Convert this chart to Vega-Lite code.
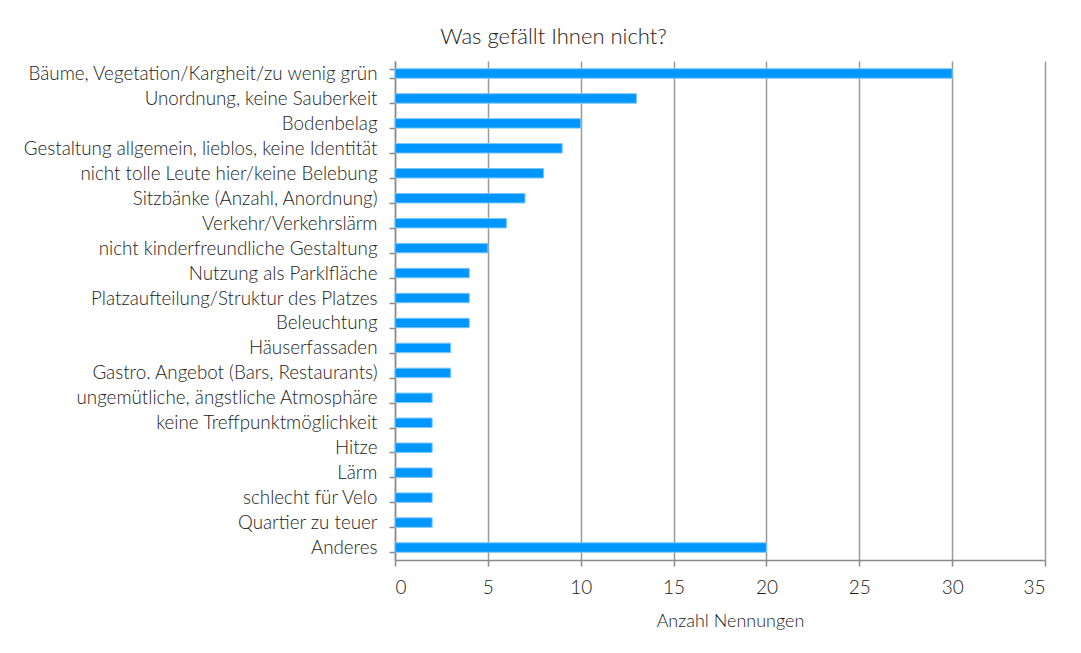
{
  "$schema": "https://vega.github.io/schema/vega-lite/v6.json",
  "autosize": "none",
  "width": 650,
  "height": 499,
  "padding": {"left": 395, "top": 61, "right": 36, "bottom": 93},
  "background": "white",
  "title": {
    "text": "Was gefällt Ihnen nicht?",
    "font": "Lato",
    "fontSize": 22,
    "fontWeight": 300,
    "color": "#222222",
    "anchor": "middle",
    "frame": "bounds",
    "dx": 19,
    "offset": 3
  },
  "data": {
    "values": [
      {"Grund": "Bäume, Vegetation/Kargheit/zu wenig grün", "Anzahl": 30},
      {"Grund": "Unordnung, keine Sauberkeit", "Anzahl": 13},
      {"Grund": "Bodenbelag", "Anzahl": 10},
      {"Grund": "Gestaltung allgemein, lieblos, keine Identität", "Anzahl": 9},
      {"Grund": "nicht tolle Leute hier/keine Belebung", "Anzahl": 8},
      {"Grund": "Sitzbänke (Anzahl, Anordnung)", "Anzahl": 7},
      {"Grund": "Verkehr/Verkehrslärm", "Anzahl": 6},
      {"Grund": "nicht kinderfreundliche Gestaltung", "Anzahl": 5},
      {"Grund": "Nutzung als Parklfläche", "Anzahl": 4},
      {"Grund": "Platzaufteilung/Struktur des Platzes", "Anzahl": 4},
      {"Grund": "Beleuchtung", "Anzahl": 4},
      {"Grund": "Häuserfassaden", "Anzahl": 3},
      {"Grund": "Gastro. Angebot (Bars, Restaurants)", "Anzahl": 3},
      {"Grund": "ungemütliche, ängstliche Atmosphäre", "Anzahl": 2},
      {"Grund": "keine Treffpunktmöglichkeit", "Anzahl": 2},
      {"Grund": "Hitze", "Anzahl": 2},
      {"Grund": "Lärm", "Anzahl": 2},
      {"Grund": "schlecht für Velo", "Anzahl": 2},
      {"Grund": "Quartier zu teuer", "Anzahl": 2},
      {"Grund": "Anderes", "Anzahl": 20}
    ]
  },
  "mark": {"type": "bar", "color": "#0096FF", "stroke": "#7cc6ff", "strokeWidth": 1},
  "encoding": {
    "y": {
      "field": "Grund",
      "type": "nominal",
      "sort": null,
      "scale": {"paddingInner": 0.62, "paddingOuter": 0.31},
      "axis": {
        "title": null,
        "labelFont": "Lato",
        "labelFontSize": 18.8,
        "labelFontWeight": 300,
        "labelColor": "#222222",
        "labelPadding": 12,
        "labelLimit": 400,
        "tickBand": "extent",
        "tickSize": 6,
        "tickColor": "#8a8a8a",
        "tickWidth": 1.5,
        "domainColor": "#8a8a8a",
        "domainWidth": 1.5,
        "grid": false
      }
    },
    "x": {
      "field": "Anzahl",
      "type": "quantitative",
      "scale": {"domain": [0, 35], "nice": false},
      "axis": {
        "title": "Anzahl Nennungen",
        "values": [0, 5, 10, 15, 20, 25, 30, 35],
        "titleFont": "Lato",
        "titleFontSize": 18,
        "titleFontWeight": 300,
        "titleColor": "#222222",
        "titlePadding": 15,
        "titleX": 335,
        "labelFont": "Lato",
        "labelFontSize": 19,
        "labelFontWeight": 300,
        "labelColor": "#222222",
        "labelPadding": 12,
        "tickSize": 6,
        "tickColor": "#8a8a8a",
        "tickWidth": 1.5,
        "domainColor": "#8a8a8a",
        "domainWidth": 1.5,
        "grid": true,
        "gridColor": "#9a9a9a",
        "gridWidth": 1.5
      }
    }
  },
  "config": {"view": {"stroke": null}}
}
